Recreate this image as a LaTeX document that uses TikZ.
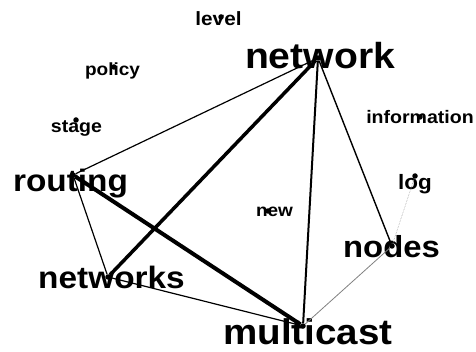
\documentclass[tikz,border=0pt]{standalone}
\usepackage{fontspec}
\setmainfont{Liberation Sans}

\begin{document}
\begin{tikzpicture}[x=1pt,y=-1pt]
              \tikzset{word/.style={font=\bfseries\fontsize{#1}{#1}\selectfont,anchor=base,inner sep=0pt,xscale=1.08},
                       dot/.style={circle,fill=black,inner sep=0pt,minimum size=5.5pt}}
              \useasboundingbox (0,0) rectangle (476,352);
              % words
              \node [word=36.2] (network-text) at (320,69) {network};
              \node [word=35.7] (multicast-text) at (308,344) {multicast};
              \node [word=30.9] (routing-text) at (70.5,192) {routing};
              \node [word=30.9] (networks-text) at (111.5,289) {networks};
              \node [word=30.4] (nodes-text) at (391.5,258) {nodes};
              \node [word=18.1] (information-text) at (420,124) {information};
              \node [word=19.2] (level-text) at (218.5,26) {level};
              \node [word=17.6] (policy-text) at (112.5,76) {policy};
              \node [word=18.1] (stage-text) at (76.5,133) {stage};
              \node [word=20.8] (log-text) at (415,190) {log};
              \node [word=17.6] (new-text) at (274.5,217) {new};
              % points
              \node [dot] (network) at (318,58) {};
              \node [dot] (multicast) at (303,326) {};
              \node [dot] (routing) at (73,175) {};
              \node [dot] (networks) at (108,277) {};
              \node [dot] (nodes) at (392,246) {};
              \node [dot] (information) at (420,117) {};
              \node [dot] (level) at (221,17) {};
              \node [dot] (policy) at (114,67) {};
              \node [dot] (stage) at (76,120) {};
              \node [dot] (log) at (415,176) {};
              \node [dot] (new) at (268,211) {};
              % links
              \draw [line width=1.2pt] (network) -- (routing);
              \draw [line width=3.5pt] (network) -- (networks);
              \draw [line width=2pt] (network) -- (multicast);
              \draw [line width=1.4pt] (network) -- (nodes);
              \draw [line width=4pt] (routing) -- (multicast);
              \draw [line width=1.2pt] (routing) -- (networks);
              \draw [line width=1.2pt] (networks) -- (multicast);
              \draw [gray,line width=0.8pt] (nodes) -- (multicast);
              \draw [gray!70,densely dotted,line width=0.6pt] (nodes) -- (log);
            \end{tikzpicture}
\end{document}
